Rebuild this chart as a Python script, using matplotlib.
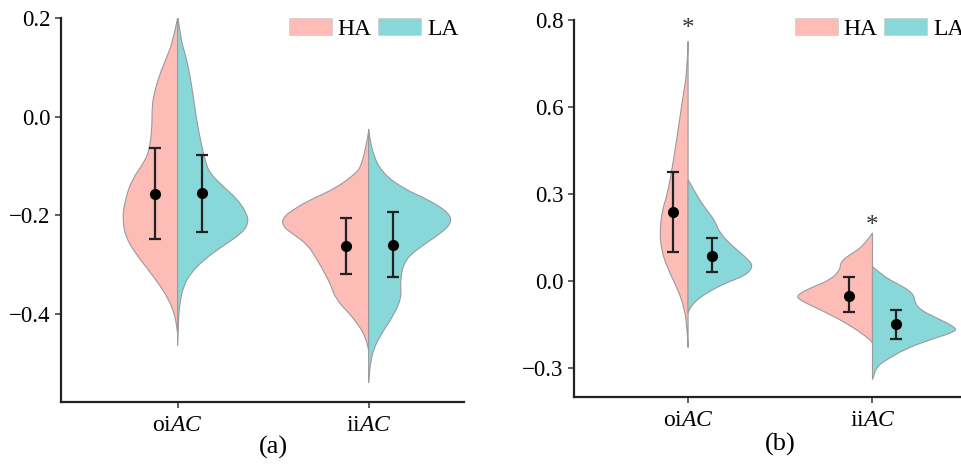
import matplotlib
matplotlib.use('Agg')
import matplotlib.pyplot as plt
from matplotlib.path import Path
from matplotlib.patches import PathPatch, Patch
import numpy as np

plt.rcParams['font.family'] = ['Liberation Serif', 'DejaVu Serif']
plt.rcParams['font.size'] = 16
plt.rcParams['mathtext.fontset'] = 'custom'
plt.rcParams['mathtext.rm'] = 'Liberation Serif'
plt.rcParams['mathtext.it'] = 'Liberation Serif:italic'

# категории и группы
categories = ['oi$\\mathit{AC}$', 'ii$\\mathit{AC}$']
groups = ['HA', 'LA']

# (a) средние и интервалы
a_mean_ha = [-0.157, -0.262]
a_lo_ha = [-0.249, -0.320]
a_hi_ha = [-0.063, -0.205]
a_mean_la = [-0.156, -0.260]
a_lo_la = [-0.234, -0.325]
a_hi_la = [-0.077, -0.193]

# (b) средние и интервалы
b_mean_ha = [0.239, -0.050]
b_lo_ha = [0.100, -0.107]
b_hi_ha = [0.377, 0.013]
b_mean_la = [0.088, -0.147]
b_lo_la = [0.031, -0.198]
b_hi_la = [0.149, -0.098]

# профили плотности (значение, полуширина)
a_oi_ha_y = [0.20, 0.15, 0.117, 0.083, 0.042, 0.015, -0.026, -0.066, -0.09, -0.128, -0.168,
             -0.209, -0.25, -0.29, -0.331, -0.372, -0.406, -0.44]
a_oi_ha_w = [0.0, 0.026, 0.061, 0.096, 0.126, 0.134, 0.134, 0.148, 0.17, 0.239, 0.274,
             0.29, 0.267, 0.197, 0.113, 0.044, 0.012, 0.0]
a_oi_la_y = [0.21, 0.164, 0.117, 0.083, 0.042, -0.005, -0.052, -0.087, -0.114, -0.141, -0.168,
             -0.195, -0.215, -0.236, -0.263, -0.29, -0.317, -0.345, -0.378, -0.41, -0.465]
a_oi_la_w = [0.0, 0.012, 0.047, 0.065, 0.082, 0.099, 0.122, 0.143, 0.166, 0.236, 0.314,
             0.36, 0.372, 0.34, 0.236, 0.14, 0.07, 0.03, 0.012, 0.005, 0.0]
a_ii_ha_y = [-0.03, -0.066, -0.10, -0.114, -0.145, -0.168, -0.185, -0.205, -0.223, -0.24,
             -0.26, -0.29, -0.318, -0.34, -0.372, -0.40, -0.42, -0.44, -0.46, -0.475]
a_ii_ha_w = [0.0, 0.016, 0.04, 0.063, 0.17, 0.30, 0.38, 0.45, 0.45, 0.39,
             0.32, 0.27, 0.23, 0.20, 0.17, 0.10, 0.06, 0.026, 0.008, 0.0]
a_ii_la_y = [-0.025, -0.066, -0.114, -0.148, -0.168, -0.195, -0.215, -0.236, -0.263, -0.29,
             -0.331, -0.365, -0.399, -0.44, -0.473, -0.507, -0.54]
a_ii_la_w = [0.0, 0.012, 0.068, 0.19, 0.31, 0.42, 0.435, 0.382, 0.277, 0.19,
             0.164, 0.173, 0.138, 0.068, 0.024, 0.007, 0.0]

b_oi_ha_y = [0.826, 0.729, 0.637, 0.522, 0.407, 0.30, 0.246, 0.177, 0.108, 0.039, -0.03,
             -0.099, -0.168, -0.229]
b_oi_ha_w = [0.0, 0.004, 0.027, 0.054, 0.081, 0.112, 0.139, 0.153, 0.146, 0.108, 0.054,
             0.018, 0.005, 0.0]
b_oi_la_y = [0.35, 0.315, 0.257, 0.211, 0.166, 0.119, 0.073, 0.05, 0.02, -0.01, -0.045,
             -0.075, -0.10, -0.11]
b_oi_la_w = [0.0, 0.03, 0.085, 0.144, 0.17, 0.243, 0.33, 0.352, 0.315, 0.19, 0.09,
             0.03, 0.005, 0.0]
b_ii_ha_y = [0.166, 0.119, 0.085, 0.062, 0.039, 0.004, -0.019, -0.047, -0.064, -0.099,
             -0.133, -0.168, -0.202, -0.214]
b_ii_ha_w = [0.0, 0.049, 0.139, 0.175, 0.175, 0.229, 0.319, 0.41, 0.40, 0.283,
             0.175, 0.085, 0.013, 0.0]
b_ii_la_y = [0.05, 0.016, -0.007, -0.041, -0.076, -0.099, -0.122, -0.157, -0.174, -0.202,
             -0.237, -0.271, -0.294, -0.34]
b_ii_la_w = [0.0, 0.06, 0.13, 0.222, 0.23, 0.26, 0.33, 0.445, 0.455, 0.31,
             0.168, 0.078, 0.023, 0.0]

# звездочки значимости (b)
star_x = [0, 1]
star_y = [0.87, 0.19]

col_ha = '#FDBDB6'
col_la = '#88D7D9'
edge = '#9a9a9a'


def half_violin(ax, x0, ys, ws, side, color):
    # контур через квадратичные кривые Безье, точки профиля - контрольные
    pts = np.column_stack([x0 + side * np.asarray(ws), np.asarray(ys)])
    verts = [(x0, pts[0, 1])]
    codes = [Path.MOVETO]
    for i in range(1, len(pts) - 1):
        mid = (pts[i] + pts[i + 1]) / 2
        verts += [tuple(pts[i]), tuple(mid)]
        codes += [Path.CURVE3, Path.CURVE3]
    verts += [(x0, pts[-1, 1]), (x0, pts[0, 1])]
    codes += [Path.LINETO, Path.CLOSEPOLY]
    ax.add_patch(PathPatch(Path(verts, codes), facecolor=color, edgecolor=edge,
                           linewidth=0.8, zorder=1))


def errs(ax, xs, mean, lo, hi):
    mean = np.asarray(mean)
    yerr = [mean - np.asarray(lo), np.asarray(hi) - mean]
    ax.errorbar(xs, mean, yerr=yerr, fmt='o', color='black', ecolor='#222222',
                markersize=7, elinewidth=1.6, capsize=4.5, capthick=1.6, zorder=3)


def style(ax, xlim, ylim):
    ax.set_xlim(*xlim)
    ax.set_ylim(*ylim)
    for s in ['top', 'right']:
        ax.spines[s].set_visible(False)
    for s in ['left', 'bottom']:
        ax.spines[s].set_linewidth(1.6)
        ax.spines[s].set_color('#222222')
    ax.tick_params(direction='out', length=4.5, width=1.2, color='#444444', pad=3)
    ax.tick_params(axis='y', labelsize=16.5)
    ax.tick_params(axis='x', labelsize=17, pad=5)
    ax.set_xticks([0, 1])
    ax.set_xticklabels(categories)


fig = plt.figure(figsize=(9.61, 4.65), dpi=100)
ax1 = fig.add_axes([0.0635, 0.135, 0.4195, 0.826])
ax2 = fig.add_axes([0.597, 0.146, 0.403, 0.811])

# панель (a)
half_violin(ax1, 0, a_oi_ha_y, a_oi_ha_w, -1, col_ha)
half_violin(ax1, 0, a_oi_la_y, a_oi_la_w, 1, col_la)
half_violin(ax1, 1, a_ii_ha_y, a_ii_ha_w, -1, col_ha)
half_violin(ax1, 1, a_ii_la_y, a_ii_la_w, 1, col_la)
errs(ax1, [-0.12, 0.88], a_mean_ha, a_lo_ha, a_hi_ha)
errs(ax1, [0.13, 1.125], a_mean_la, a_lo_la, a_hi_la)
style(ax1, (-0.61, 1.5), (-0.58, 0.2))
ax1.set_yticks([-0.4, -0.2, 0.0, 0.2])
ax1.set_xlabel('(a)', fontsize=19)
ax1.xaxis.set_label_coords((0.5 + 0.61) / 2.11, -0.088)

# панель (b)
half_violin(ax2, 0, b_oi_ha_y, b_oi_ha_w, -1, col_ha)
half_violin(ax2, 0, b_oi_la_y, b_oi_la_w, 1, col_la)
half_violin(ax2, 1, b_ii_ha_y, b_ii_ha_w, -1, col_ha)
half_violin(ax2, 1, b_ii_la_y, b_ii_la_w, 1, col_la)
errs(ax2, [-0.08, 0.87], b_mean_ha, b_lo_ha, b_hi_ha)
errs(ax2, [0.13, 1.127], b_mean_la, b_lo_la, b_hi_la)
style(ax2, (-0.62, 1.48), (-0.4, 0.9))
ax2.set_yticks([-0.3, 0.0, 0.3, 0.6, 0.9])
ax2.set_yticklabels(['\u22120.3', '0.0', '0.3', '0.6', '0.8'])
for x, y in zip(star_x, star_y):
    ax2.text(x, y, '*', ha='center', va='center', fontsize=18, color='#333333')
ax2.set_xlabel('(b)', fontsize=19)
ax2.xaxis.set_label_coords((0.5 + 0.62) / 2.10, -0.095)

# легенды
handles = [Patch(facecolor=col_ha, edgecolor='#cccccc', linewidth=0.5),
           Patch(facecolor=col_la, edgecolor='#cccccc', linewidth=0.5)]
for ax, x in [(ax1, 289 / 961), (ax2, 795 / 961)]:
    ax.legend(handles, groups, loc='center left', bbox_to_anchor=(x, 1 - 29 / 465),
              bbox_transform=fig.transFigure, ncol=2, frameon=False, borderpad=0,
              borderaxespad=0, handlelength=1.8, handleheight=0.7, handletextpad=0.25,
              columnspacing=0.3, fontsize=17)

fig.savefig('out.png', dpi=100)
